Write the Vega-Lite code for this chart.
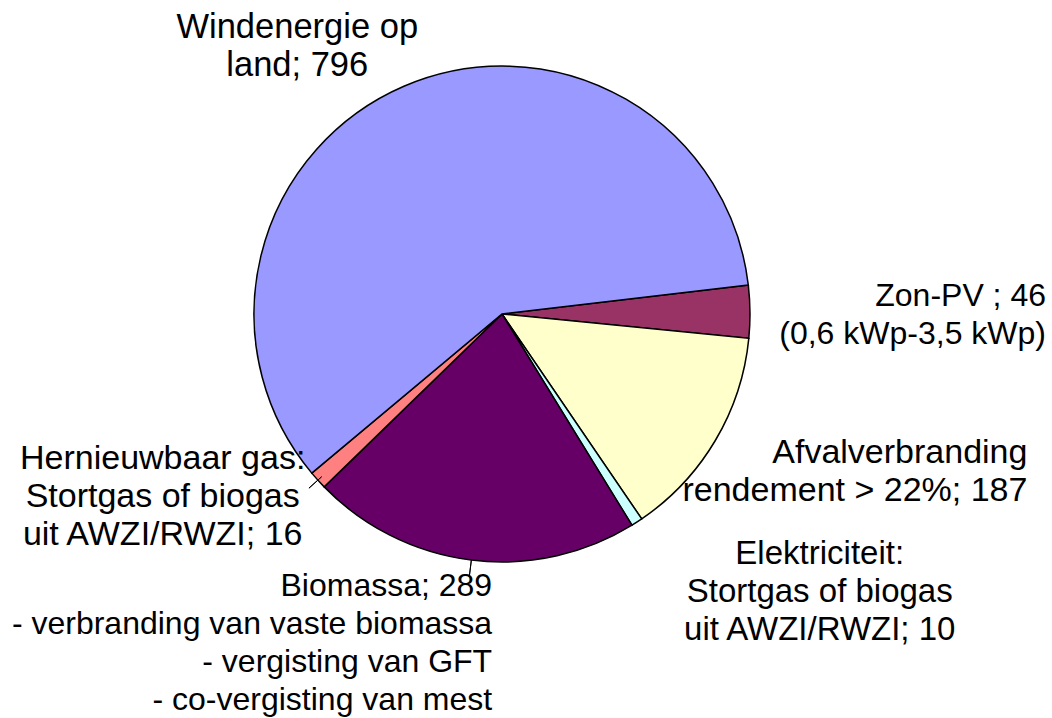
{
  "$schema": "https://vega.github.io/schema/vega-lite/v6.json",
  "width": 1004,
  "height": 628,
  "autosize": {"type": "none"},
  "padding": {"left": 0, "top": 0, "right": 48, "bottom": 90},
  "background": "white",
  "config": {"view": {"stroke": null}, "text": {"font": "Liberation Sans", "fontSize": 33, "lineHeight": 38, "color": "#000000"}},
  "data": {"values": [
    {"cat": "Zon-PV", "idx": 1, "value": 46, "label": "Zon-PV ; 46\n(0,6 kWp-3,5 kWp)"},
    {"cat": "Afvalverbranding", "idx": 2, "value": 187, "label": "Afvalverbranding\nrendement > 22%; 187"},
    {"cat": "Elektriciteit", "idx": 3, "value": 10, "label": "Elektriciteit:\nStortgas of biogas\nuit AWZI/RWZI; 10"},
    {"cat": "Biomassa", "idx": 4, "value": 289, "label": "Biomassa; 289\n- verbranding van vaste biomassa\n- vergisting van GFT\n- co-vergisting van mest"},
    {"cat": "Hernieuwbaar gas", "idx": 5, "value": 16, "label": "Hernieuwbaar gas:\nStortgas of biogas\nuit AWZI/RWZI; 16"},
    {"cat": "Windenergie op land", "idx": 6, "value": 796, "label": "Windenergie op\nland; 796"}
  ]},
  "layer": [
    {
      "mark": {"type": "arc", "radius": 248, "stroke": "#000000", "strokeWidth": 1.5},
      "encoding": {
        "theta": {"field": "value", "type": "quantitative", "stack": true, "scale": {"range": [1.4539, 7.7371]}},
        "order": {"field": "idx", "type": "quantitative"},
        "color": {"field": "cat", "type": "nominal", "legend": null,
          "scale": {"domain": ["Zon-PV", "Afvalverbranding", "Elektriciteit", "Biomassa", "Hernieuwbaar gas", "Windenergie op land"],
                    "range": ["#993366", "#FFFFCC", "#CCFFFF", "#660066", "#FF8080", "#9999FF"]}}
      }
    },
    {
      "mark": {"type": "arc", "radius": 265, "radius2": 248, "padAngle": 3.14, "fillOpacity": 0, "stroke": "#000000", "strokeWidth": 1},
      "encoding": {
        "theta": {"field": "value", "type": "quantitative", "stack": true, "scale": {"range": [1.4539, 7.7371]}},
        "order": {"field": "idx", "type": "quantitative"},
        "strokeOpacity": {"condition": {"test": "datum.cat === 'Biomassa'", "value": 1}, "value": 0}
      }
    },
    {
      "mark": {"type": "arc", "radius": 260, "radius2": 243, "padAngle": 3.14, "fillOpacity": 0, "stroke": "#000000", "strokeWidth": 1},
      "encoding": {
        "theta": {"field": "value", "type": "quantitative", "stack": true, "scale": {"range": [1.4539, 7.7371]}},
        "order": {"field": "idx", "type": "quantitative"},
        "strokeOpacity": {"condition": {"test": "datum.cat === 'Hernieuwbaar gas'", "value": 1}, "value": 0}
      }
    },
    {
      "mark": {"type": "text", "radius": 290, "align": "center", "baseline": "middle", "lineBreak": "\n", "fontSize": 34.5, "dx": -90, "dy": -20},
      "encoding": {
        "theta": {"field": "value", "type": "quantitative", "stack": true, "scale": {"range": [1.4539, 7.7371]}},
        "order": {"field": "idx", "type": "quantitative"},
        "text": {"condition": {"test": "datum.cat === 'Windenergie op land'", "field": "label", "type": "nominal"}, "value": ""}
      }
    },
    {
      "mark": {"type": "text", "radius": 290, "align": "right", "baseline": "middle", "lineBreak": "\n", "fontSize": 32, "dx": 254, "dy": -15},
      "encoding": {
        "theta": {"field": "value", "type": "quantitative", "stack": true, "scale": {"range": [1.4539, 7.7371]}},
        "order": {"field": "idx", "type": "quantitative"},
        "text": {"condition": {"test": "datum.cat === 'Zon-PV'", "field": "label", "type": "nominal"}, "value": ""}
      }
    },
    {
      "mark": {"type": "text", "radius": 290, "align": "right", "baseline": "middle", "lineBreak": "\n", "fontSize": 34, "dx": 276, "dy": -9},
      "encoding": {
        "theta": {"field": "value", "type": "quantitative", "stack": true, "scale": {"range": [1.4539, 7.7371]}},
        "order": {"field": "idx", "type": "quantitative"},
        "text": {"condition": {"test": "datum.cat === 'Afvalverbranding'", "field": "label", "type": "nominal"}, "value": ""}
      }
    },
    {
      "mark": {"type": "text", "radius": 290, "align": "center", "baseline": "middle", "lineBreak": "\n", "fontSize": 33, "dx": 160, "dy": -3},
      "encoding": {
        "theta": {"field": "value", "type": "quantitative", "stack": true, "scale": {"range": [1.4539, 7.7371]}},
        "order": {"field": "idx", "type": "quantitative"},
        "text": {"condition": {"test": "datum.cat === 'Elektriciteit'", "field": "label", "type": "nominal"}, "value": ""}
      }
    },
    {
      "mark": {"type": "text", "radius": 290, "align": "right", "baseline": "middle", "lineBreak": "\n", "fontSize": 32, "dx": 26, "dy": -16},
      "encoding": {
        "theta": {"field": "value", "type": "quantitative", "stack": true, "scale": {"range": [1.4539, 7.7371]}},
        "order": {"field": "idx", "type": "quantitative"},
        "text": {"condition": {"test": "datum.cat === 'Biomassa'", "field": "label", "type": "nominal"}, "value": ""}
      }
    },
    {
      "mark": {"type": "text", "radius": 290, "align": "center", "baseline": "middle", "lineBreak": "\n", "fontSize": 34, "dx": -124, "dy": -49},
      "encoding": {
        "theta": {"field": "value", "type": "quantitative", "stack": true, "scale": {"range": [1.4539, 7.7371]}},
        "order": {"field": "idx", "type": "quantitative"},
        "text": {"condition": {"test": "datum.cat === 'Hernieuwbaar gas'", "field": "label", "type": "nominal"}, "value": ""}
      }
    }
  ]
}
